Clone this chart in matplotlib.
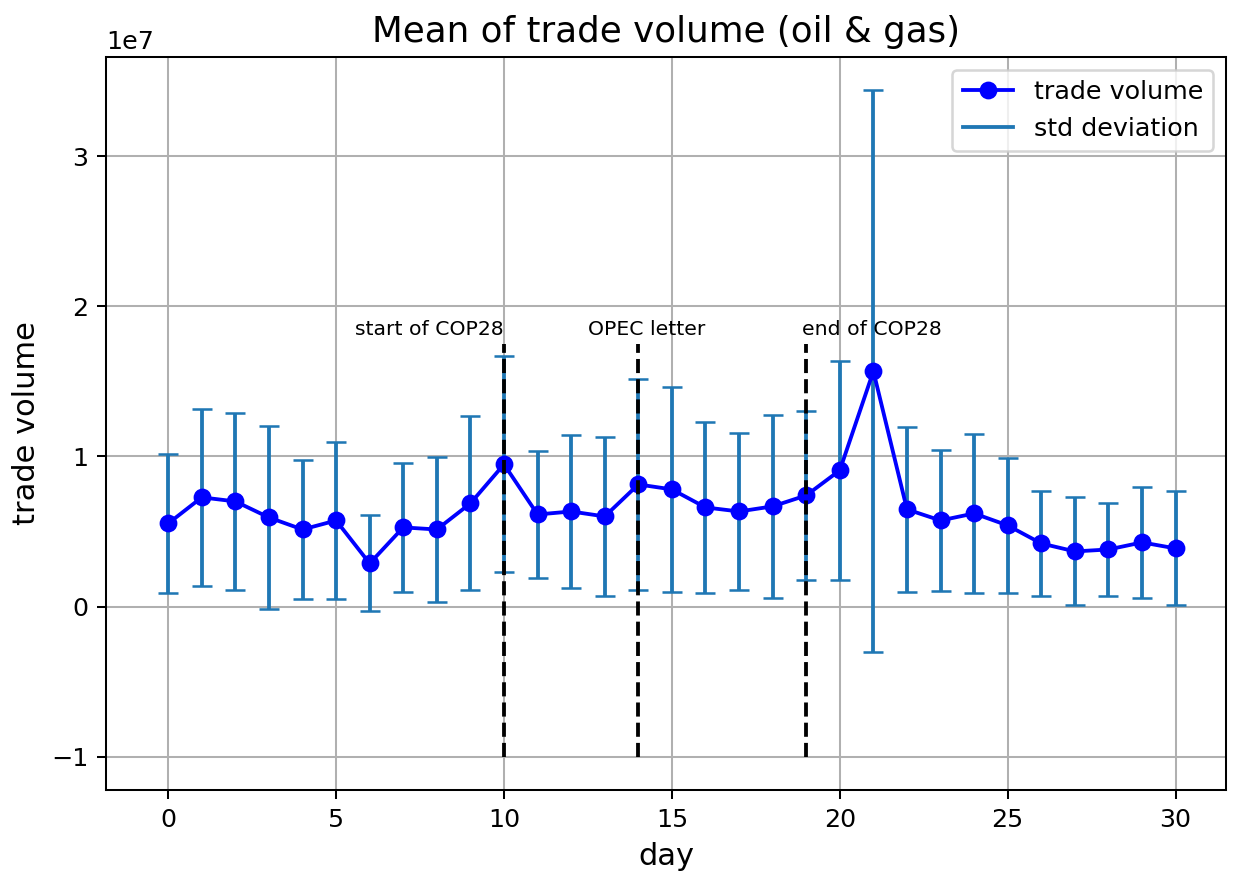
import matplotlib
matplotlib.use("Agg")
import matplotlib.pyplot as plt
from matplotlib.lines import Line2D
import numpy as np

# daily mean trade volume and its std deviation (units of 1e7)
days = list(range(31))
mean_vol = [0.553, 0.727, 0.70, 0.593, 0.513, 0.573, 0.287, 0.527, 0.513, 0.687,
            0.947, 0.613, 0.633, 0.600, 0.813, 0.780, 0.660, 0.633, 0.667, 0.740,
            0.907, 1.567, 0.647, 0.573, 0.620, 0.540, 0.420, 0.367, 0.380, 0.427,
            0.387]
std_vol = [0.46, 0.59, 0.59, 0.61, 0.46, 0.52, 0.32, 0.43, 0.48, 0.58,
           0.72, 0.42, 0.51, 0.53, 0.70, 0.68, 0.57, 0.52, 0.61, 0.56,
           0.73, 1.87, 0.55, 0.47, 0.53, 0.45, 0.35, 0.36, 0.31, 0.37,
           0.38]

events = [10, 14, 19]
event_labels = ["start of COP28", "OPEC letter", "end of COP28"]
label_x = [5.57, 12.5, 18.87]


def draw_plot():
    mean = np.array(mean_vol) * 1e7
    std = np.array(std_vol) * 1e7

    dpi = 183
    fig = plt.figure(figsize=(1239 / dpi, 878 / dpi), dpi=dpi)
    ax = fig.add_subplot(111)
    fig.subplots_adjust(left=0.0856, right=0.9895, top=0.935, bottom=0.1002)

    ax.errorbar(days, mean, yerr=std, fmt='none', ecolor='tab:blue', capsize=4)
    ax.plot(days, mean, color='blue', marker='o', linestyle='-')

    for d, lab, lx in zip(events, event_labels, label_x):
        ax.vlines(d, -1e7, 1.75e7, colors='black', linestyles='dashed')
        ax.text(lx, 1.78e7, lab, fontsize=8, ha='left', va='bottom')

    ax.set_xlim(-1.85, 31.5)
    ax.set_xlabel('day', fontsize=12)
    ax.set_ylabel('trade volume', fontsize=12)
    ax.set_title('Mean of trade volume (oil & gas)', fontsize=14)
    ax.grid(True)

    handles = [Line2D([], [], color='blue', marker='o', linestyle='-'),
               Line2D([], [], color='tab:blue')]
    ax.legend(handles, ['trade volume', 'std deviation'], loc='upper right')

    fig.savefig('out.png', dpi=dpi)


if __name__ == "__main__":
    draw_plot()
